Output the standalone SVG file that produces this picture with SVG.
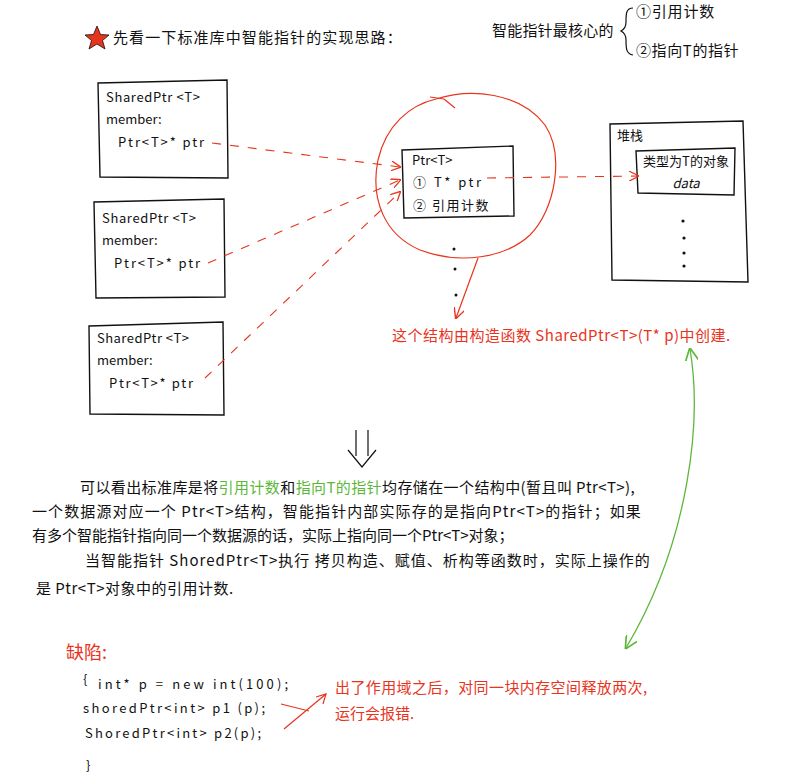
<svg xmlns="http://www.w3.org/2000/svg" width="799" height="777" viewBox="0 0 799 777">
<defs>
<style>
text{font-family:"Noto Sans CJK SC","Liberation Sans",sans-serif;fill:#111;}
.t{font-size:15px;}
.s{font-size:13px;}
.red{fill:#e8341c;}
.grn{fill:#5cb83a;}
.box{fill:#fff;stroke:#111;stroke-width:1.4;}
.dash{fill:none;stroke:#e8341c;stroke-width:1.1;stroke-dasharray:9 9;}
.rl{fill:none;stroke:#e8341c;stroke-width:1.2;}
.gl{fill:none;stroke:#5cb83a;stroke-width:1.3;}
</style>
<marker id="ar" viewBox="0 0 10 10" refX="9" refY="5" markerWidth="9" markerHeight="9" orient="auto"><path d="M0,0 L10,5 L0,10" fill="none" stroke="#e8341c" stroke-width="1.3"/></marker>
<marker id="ag" viewBox="0 0 10 10" refX="9" refY="5" markerWidth="10" markerHeight="10" orient="auto-start-reverse"><path d="M0,0 L10,5 L0,10" fill="none" stroke="#5cb83a" stroke-width="1.3"/></marker>
</defs>
<rect width="799" height="777" fill="#fff"/>

<g id="title">
<polygon points="97,26 100.5,34.5 109,35 102.5,40.5 105,49 97,44 89,49 91.5,40.5 85,35 93.5,34.5" fill="#e8341c" stroke="#111" stroke-width="0.8"/>
<text class="t" x="113" y="43" letter-spacing="1.1">先看一下标准库中智能指针的实现思路：</text>
</g>

<g id="core">
<text class="t" x="492" y="36" letter-spacing="0.2">智能指针最核心的</text>
<path d="M633,8 C626,8 626,14 626,22 C626,28 623,30 621,31 C623,32 626,34 626,40 C626,48 626,54 633,55" fill="none" stroke="#111" stroke-width="1.2"/>
<text class="t" x="636" y="17" letter-spacing="0.8">①引用计数</text>
<text class="t" x="636" y="56" letter-spacing="0.6">②指向T的指针</text>
</g>

<g id="box1">
<path class="box" d="M98,83 L227,80 L228,178 L100,177 Z"/>
<text class="s" x="106" y="102" textLength="94">SharedPtr &lt;T&gt;</text>
<text class="s" x="106" y="124">member:</text>
<text class="s" x="118" y="147" textLength="86">Ptr&lt;T&gt;*  ptr</text>
</g>

<g id="box2">
<path class="box" d="M94,202 L224,199 L225,297 L96,298 Z"/>
<text class="s" x="102" y="223" textLength="94">SharedPtr &lt;T&gt;</text>
<text class="s" x="102" y="245">member:</text>
<text class="s" x="114" y="268" textLength="86">Ptr&lt;T&gt;*  ptr</text>
</g>

<g id="box3">
<path class="box" d="M89,326 L223,322 L224,415 L90,414 Z"/>
<text class="s" x="97" y="343" textLength="92">SharedPtr &lt;T&gt;</text>
<text class="s" x="97" y="365">member:</text>
<text class="s" x="109" y="388" textLength="84">Ptr&lt;T&gt;*  ptr</text>
</g>

<g id="circle">
<path class="rl" d="M436,99 C470,88 520,92 545,125 C565,155 555,210 530,235 C505,258 460,265 420,250 C385,235 370,200 378,160 C386,125 410,105 436,99" />
<path class="rl" d="M430,97 L444,99 M444,99 L455,108"/>
</g>

<g id="ptrT">
<path class="box" d="M402,150 L513,146 L514,216 L404,218 Z"/>
<text class="s" x="412" y="165">Ptr&lt;T&gt;</text>
<text class="s" x="413" y="187" textLength="68">① T*  ptr</text>
<text class="s" x="413" y="210" letter-spacing="1.5">② 引用计数</text>
<circle cx="454" cy="249" r="1.5" fill="#111"/>
<circle cx="455" cy="269" r="1.5" fill="#111"/>
<circle cx="456" cy="295" r="1.5" fill="#111"/>
</g>

<g id="stack">
<path class="box" d="M610,124 L743,121 L748,282 L612,280 Z"/>
<text class="s" x="617" y="140">堆栈</text>
<path class="box" d="M636,151 L735,148 L734,195 L638,193 Z"/>
<text class="s" x="686" y="166" text-anchor="middle">类型为T的对象</text>
<text class="s" x="686" y="188" text-anchor="middle" font-style="italic">data</text>
<circle cx="683" cy="221" r="1.6" fill="#111"/>
<circle cx="684" cy="238" r="1.6" fill="#111"/>
<circle cx="684" cy="253" r="1.6" fill="#111"/>
<circle cx="684" cy="266" r="1.6" fill="#111"/>
</g>

<g id="connectors">
<path class="dash" d="M212,143 L400,167" marker-end="url(#ar)"/>
<path class="dash" d="M208,263 L400,180" marker-end="url(#ar)"/>
<path class="dash" d="M205,378 L400,192" marker-end="url(#ar)"/>
<path class="dash" d="M487,178 L638,176" marker-end="url(#ar)"/>
<path class="rl" d="M478,258 L456,318" marker-end="url(#ar)"/>
<path class="gl" d="M690,349 C702,420 690,540 626,648" marker-start="url(#ag)" marker-end="url(#ag)"/>
<path d="M356,430 L356,456 M368,430 L368,456 M348,450 L362,467 L376,450" fill="none" stroke="#111" stroke-width="1.2"/>
<path class="rl" d="M281,704 L309,711 M284,729 L326,694" />
<path class="rl" d="M316,697 L326,694 L323,704"/>
</g>

<g id="note1">
<text class="t red" x="392" y="341" letter-spacing="0.5">这个结构由构造函数 SharedPtr&lt;T&gt;(T* p)中创建.</text>
</g>

<g id="para">
<text class="t" x="80" y="493" letter-spacing="0.4">可以看出标准库是将<tspan class="grn">引用计数</tspan>和<tspan class="grn">指向T的指针</tspan>均存储在一个结构中(暂且叫 Ptr&lt;T&gt;),</text>
<text class="t" x="32" y="517" letter-spacing="1.1">一个数据源对应一个 Ptr&lt;T&gt;结构，智能指针内部实际存的是指向Ptr&lt;T&gt;的指针；如果</text>
<text class="t" x="32" y="541">有多个智能指针指向同一个数据源的话，实际上指向同一个Ptr&lt;T&gt;对象；</text>
<text class="t" x="85" y="566" letter-spacing="1">当智能指针 ShoredPtr&lt;T&gt;执行 拷贝构造、赋值、析构等函数时，实际上操作的</text>
<text class="t" x="36" y="594" letter-spacing="0.5">是 Ptr&lt;T&gt;对象中的引用计数.</text>
</g>

<g id="defect">
<text class="red" x="66" y="659" font-size="18">缺陷:</text>
<text class="s" x="83" y="684">{</text>
<text class="s" x="98" y="689" textLength="190">int*  p = new int(100);</text>
<text class="s" x="83" y="713" textLength="182">shoredPtr&lt;int&gt;  p1 (p);</text>
<text class="s" x="85" y="738" textLength="176">ShoredPtr&lt;int&gt;  p2(p);</text>
<text class="s" x="86" y="770">}</text>
<text class="t red" x="335" y="693" letter-spacing="0.4">出了作用域之后，对同一块内存空间释放两次,</text>
<text class="t red" x="335" y="719">运行会报错.</text>
</g>
</svg>
